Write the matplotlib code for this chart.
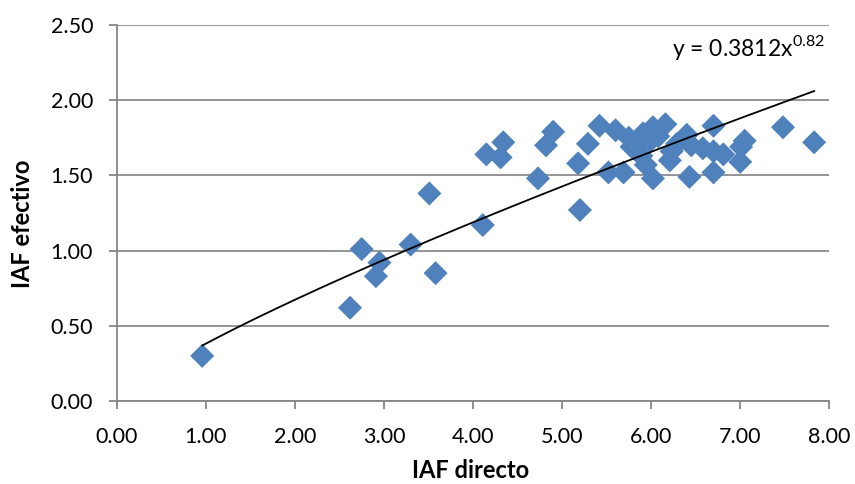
import numpy as np
import matplotlib
matplotlib.use("Agg")
import matplotlib.pyplot as plt

plt.rcParams["font.family"] = ["Lato", "DejaVu Sans"]

# IAF directo vs IAF efectivo
iaf_directo = [
    0.96, 2.62, 2.75, 2.91, 2.95, 3.30, 3.51, 3.58, 4.11, 4.15,
    4.31, 4.34, 4.73, 4.82, 4.90, 5.18, 5.20, 5.29, 5.42, 5.52,
    5.60, 5.69, 5.75, 5.78, 5.87, 5.89, 5.91, 5.94, 5.99, 6.02,
    6.02, 6.08, 6.16, 6.21, 6.23, 6.29, 6.40, 6.43, 6.45, 6.58,
    6.70, 6.70, 6.70, 6.81, 7.00, 7.01, 7.05, 7.48, 7.83,
]
iaf_efectivo = [
    0.30, 0.62, 1.01, 0.83, 0.92, 1.04, 1.38, 0.85, 1.17, 1.64,
    1.62, 1.72, 1.48, 1.70, 1.79, 1.58, 1.27, 1.71, 1.83, 1.52,
    1.80, 1.52, 1.75, 1.69, 1.72, 1.63, 1.78, 1.57, 1.73, 1.82,
    1.48, 1.76, 1.84, 1.60, 1.66, 1.71, 1.77, 1.49, 1.70, 1.68,
    1.83, 1.66, 1.52, 1.64, 1.59, 1.69, 1.73, 1.82, 1.72,
]
coef_a = 0.3812
coef_b = 0.82

fig = plt.figure(figsize=(8.55, 4.84), dpi=100)
ax = fig.add_axes([116.7 / 855, 1 - 401 / 484, (829.3 - 116.7) / 855, (401 - 25) / 484])

ax.scatter(iaf_directo, iaf_efectivo, marker="D", s=150, color="#4F81BD",
           edgecolors="none", zorder=3)

xs = np.linspace(min(iaf_directo), max(iaf_directo), 200)
ax.plot(xs, coef_a * xs ** coef_b, color="black", linewidth=1.3, zorder=4)

ax.text(7.95, 2.35, r"y = 0.3812x$^{\mathregular{0.82}}$", ha="right", va="center",
        fontsize=16.5)

ax.set_xlim(0, 8)
ax.set_ylim(0, 2.5)
ax.set_xticks(np.arange(0, 8.01, 1))
ax.set_yticks(np.arange(0, 2.51, 0.5))
ax.set_xticklabels([f"{v:.2f}" for v in np.arange(0, 8.01, 1)])
ax.set_yticklabels([f"{v:.2f}" for v in np.arange(0, 2.51, 0.5)])
ax.tick_params(labelsize=15.5, length=6, color="#868686", width=1.3)
ax.tick_params(axis="y", pad=11)
ax.tick_params(axis="x", pad=13)
ax.grid(axis="y", color="#8C8C8C", linewidth=1.3, zorder=0)
ax.set_axisbelow(True)
for side in ["top", "right"]:
    ax.spines[side].set_visible(False)
for side in ["left", "bottom"]:
    ax.spines[side].set_color("#868686")
    ax.spines[side].set_linewidth(1.3)

ax.set_xlabel("IAF directo", fontsize=17, fontweight="bold")
ax.set_ylabel("IAF efectivo", fontsize=17, fontweight="bold")
ax.xaxis.set_label_coords(0.497, (401 - 459) / 376)
ax.yaxis.set_label_coords((34 - 116.7) / 712.6, (401 - 224) / 376)

fig.savefig("out.png", dpi=100)
